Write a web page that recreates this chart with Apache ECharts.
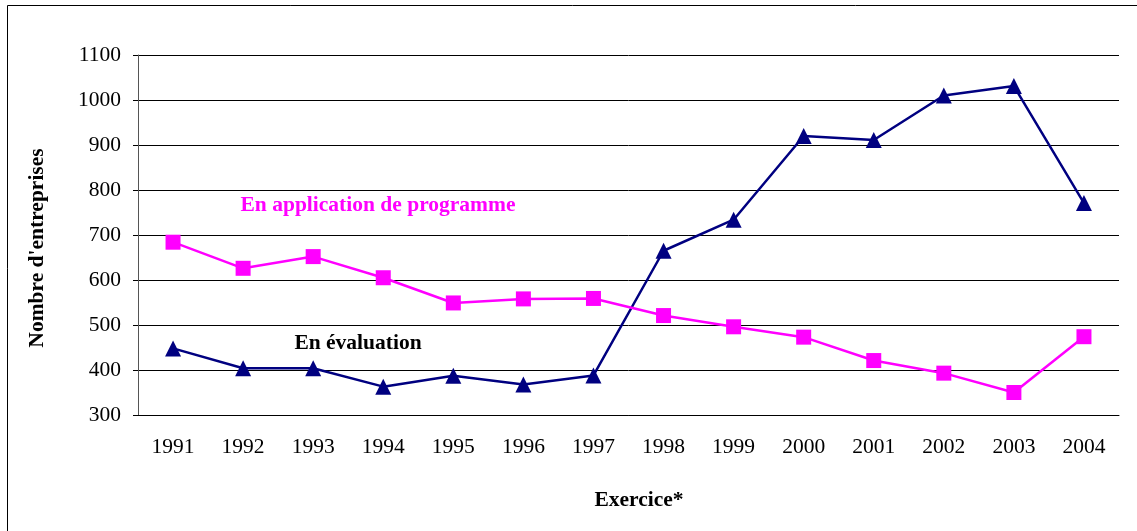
<!DOCTYPE html>
<html lang="en">
<head>
    <meta charset="UTF-8">
    <title>Nombre d'entreprises</title>
    <script src='https://cdn.jsdelivr.net/npm/echarts@6/dist/echarts.min.js'></script>
</head>
<body style="margin: 0">
<div id="chart" style="width: 1137px;height: 531px"></div>
</body>

<script>
    let years = ['1991', '1992', '1993', '1994', '1995', '1996', '1997',
                 '1998', '1999', '2000', '2001', '2002', '2003', '2004'];
    let evaluation = [448, 404, 404, 363, 387, 368, 388, 665, 734, 920, 911, 1010, 1031, 771];
    let application = [684, 626, 652, 605, 549, 558, 559, 521, 496, 473, 421, 393, 350, 474];

    let serif = '"Liberation Serif", "Times New Roman", serif';

    let chart = echarts.init(document.getElementById('chart'));
    let option = {
        animation: false,
        textStyle: { fontFamily: serif },
        grid: { left: 138, right: 18, top: 55, bottom: 116 },
        xAxis: {
            type: 'category',
            data: years,
            axisLine: { lineStyle: { color: '#000', width: 1 } },
            axisTick: { length: 7, lineStyle: { color: '#000' } },
            axisLabel: { color: '#000', fontSize: 21.5, fontFamily: serif, margin: 21 }
        },
        yAxis: {
            type: 'value',
            min: 300,
            max: 1100,
            interval: 100,
            axisLine: { show: true, lineStyle: { color: '#555', width: 1 } },
            axisTick: { show: true, length: 5, lineStyle: { color: '#000' } },
            axisLabel: {
                color: '#000', fontSize: 21.5, fontFamily: serif, margin: 17,
                formatter: function (v) { return String(v); }
            },
            splitLine: { lineStyle: { color: '#000', width: 1 } }
        },
        series: [
            {
                name: 'En évaluation',
                type: 'line',
                data: evaluation,
                symbol: 'triangle',
                symbolSize: 16,
                lineStyle: { color: '#000080', width: 2.5 },
                itemStyle: { color: '#000080' }
            },
            {
                name: 'En application de programme',
                type: 'line',
                data: application,
                symbol: 'rect',
                symbolSize: 15,
                lineStyle: { color: '#FF00FF', width: 2.5 },
                itemStyle: { color: '#FF00FF' }
            }
        ],
        graphic: [
            {
                type: 'rect',
                shape: { x: 7.5, y: 5.5, width: 1200, height: 600 },
                style: { fill: 'none', stroke: '#000', lineWidth: 1 },
                silent: true
            },
            {
                type: 'text',
                x: 37, y: 248,
                rotation: Math.PI / 2,
                style: {
                    text: "Nombre d'entreprises",
                    font: 'bold 21.5px ' + serif,
                    fill: '#000',
                    align: 'center',
                    verticalAlign: 'middle'
                }
            },
            {
                type: 'text',
                x: 639, y: 500,
                style: {
                    text: 'Exercice*',
                    font: 'bold 21.5px ' + serif,
                    fill: '#000',
                    align: 'center',
                    verticalAlign: 'middle'
                }
            },
            {
                type: 'text',
                x: 378, y: 205,
                style: {
                    text: 'En application de programme',
                    font: 'bold 21.5px ' + serif,
                    fill: '#FF00FF',
                    align: 'center',
                    verticalAlign: 'middle'
                }
            },
            {
                type: 'text',
                x: 358, y: 343,
                style: {
                    text: 'En évaluation',
                    font: 'bold 21.5px ' + serif,
                    fill: '#000',
                    align: 'center',
                    verticalAlign: 'middle'
                }
            }
        ]
    };
    chart.setOption(option);
</script>

</html>
